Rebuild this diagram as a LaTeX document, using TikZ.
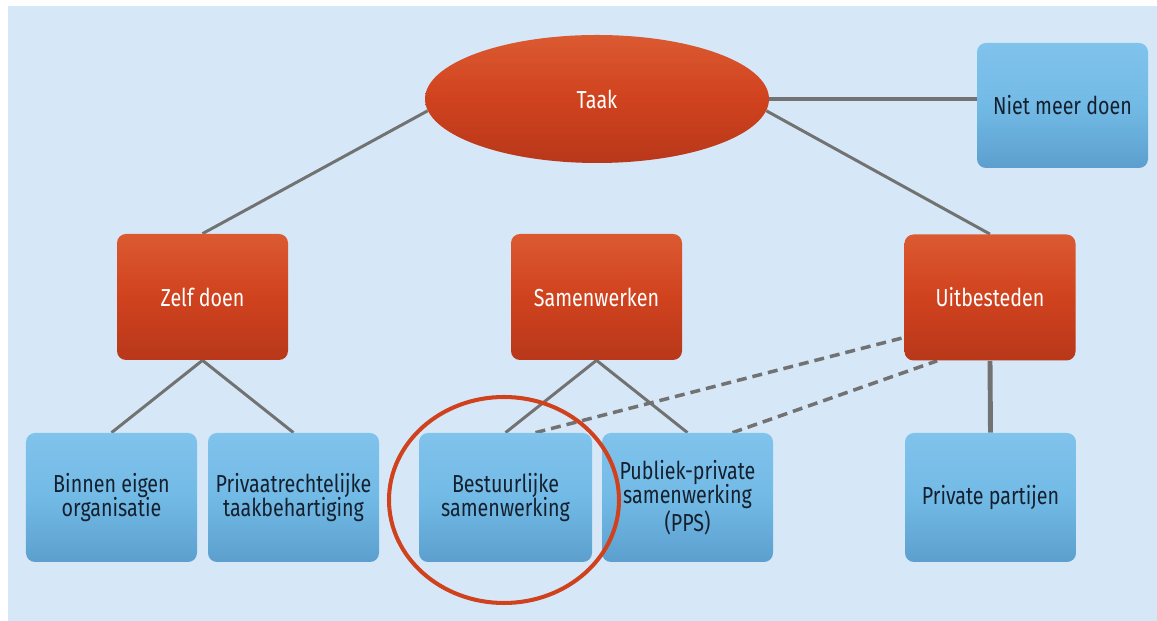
\documentclass[tikz,border=0pt]{standalone}
\usepackage{fontspec}
\setmainfont{Fira Sans}[FakeStretch=0.8]
\usetikzlibrary{shapes.geometric}
\definecolor{achtergrond}{HTML}{D6E8F7}
\definecolor{oranje}{HTML}{D0421E}
\definecolor{oranjelicht}{HTML}{DB5A32}
\definecolor{oranjedonker}{HTML}{B8381A}
\definecolor{blauw}{HTML}{72BAE6}
\definecolor{blauwlicht}{HTML}{80C3EC}
\definecolor{blauwdonker}{HTML}{5C9FCE}
\definecolor{lijn}{HTML}{727272}
\definecolor{tekst}{HTML}{15202E}
\pgfdeclarelayer{achter}
\pgfdeclarelayer{bg}
\pgfsetlayers{achter,bg,main}

\begin{document}
\begin{tikzpicture}[
		blok/.style={rectangle, rounded corners=0.18cm, align=center, minimum width=3.42cm, minimum height=2.52cm, font=\fontsize{14}{14}\selectfont},
		oranjeblok/.style={blok, top color=oranjelicht, bottom color=oranjedonker, middle color=oranje, text=white},
		blauwblok/.style={blok, minimum height=2.58cm, top color=blauwlicht, bottom color=blauwdonker, middle color=blauw, text=tekst},
		tak/.style={lijn, line width=1.7pt},
		dikketak/.style={lijn, line width=2.8pt},
		stippeltak/.style={lijn, line width=2pt, dash pattern=on 0.2cm off 0.12cm}
	]
		\useasboundingbox (0,0) rectangle (23.14,12.42);

		% bovenste laag
		\node [ellipse, inner sep=0, minimum width=6.88cm, minimum height=2.56cm, top color=oranjelicht, bottom color=oranjedonker, middle color=oranje, text=white, font=\fontsize{14}{14}\selectfont] (taak) at (11.94,10.44) {Taak};
		\node [blauwblok, minimum height=2.5cm] (niet) at (21.25,10.31) {Niet meer doen};

		% middelste laag
		\node [oranjeblok] (zelf) at (4.05,6.48) {Zelf doen};
		\node [oranjeblok] (samen) at (11.93,6.48) {Samenwerken};
		\node [oranjeblok] (uit) at (19.80,6.47) {Uitbesteden};

		% onderste laag
		\node [blauwblok] (binnen) at (2.23,2.47) {Binnen eigen\\organisatie};
		\node [blauwblok] (privaat) at (5.87,2.47) {Privaatrechtelijke\\taakbehartiging};
		\node [blauwblok, minimum width=3.46cm] (bestuur) at (10.11,2.47) {Bestuurlijke\\samenwerking};
		\node [blauwblok] (pps) at (13.75,2.47) {Publiek-private\\samenwerking\\(PPS)};
		\node [blauwblok] (private) at (19.81,2.47) {Private partijen};

		\begin{pgfonlayer}{achter}
			\fill [achtergrond] (0.16,0) rectangle (23.14,12.30);
		\end{pgfonlayer}

		\begin{pgfonlayer}{bg}
			\draw [tak] (taak.184) -- (zelf.north);
			\draw [tak] (taak.-4) -- (uit.north);
			\draw [dikketak] (taak.east) -- (taak.east -| niet.west);
			\draw [tak] (zelf.south) -- (binnen.north);
			\draw [tak] (zelf.south) -- (privaat.north);
			\draw [tak] (samen.south) -- (bestuur.north);
			\draw [tak] (samen.south) -- (pps.north);
			\draw [dikketak] (uit.south) -- (private.north);
			\draw [stippeltak] ([xshift=0.6cm]bestuur.north) -- ([yshift=-0.8cm]uit.west);
			\draw [stippeltak] ([xshift=0.9cm]pps.north) -- ([xshift=0.66cm]uit.south west);
		\end{pgfonlayer}

		% markering
		\node [draw=oranje, line width=2.3pt, ellipse, minimum width=4.6cm, minimum height=4.12cm] (markering) at (10.08,2.42) {};
\end{tikzpicture}
\end{document}
